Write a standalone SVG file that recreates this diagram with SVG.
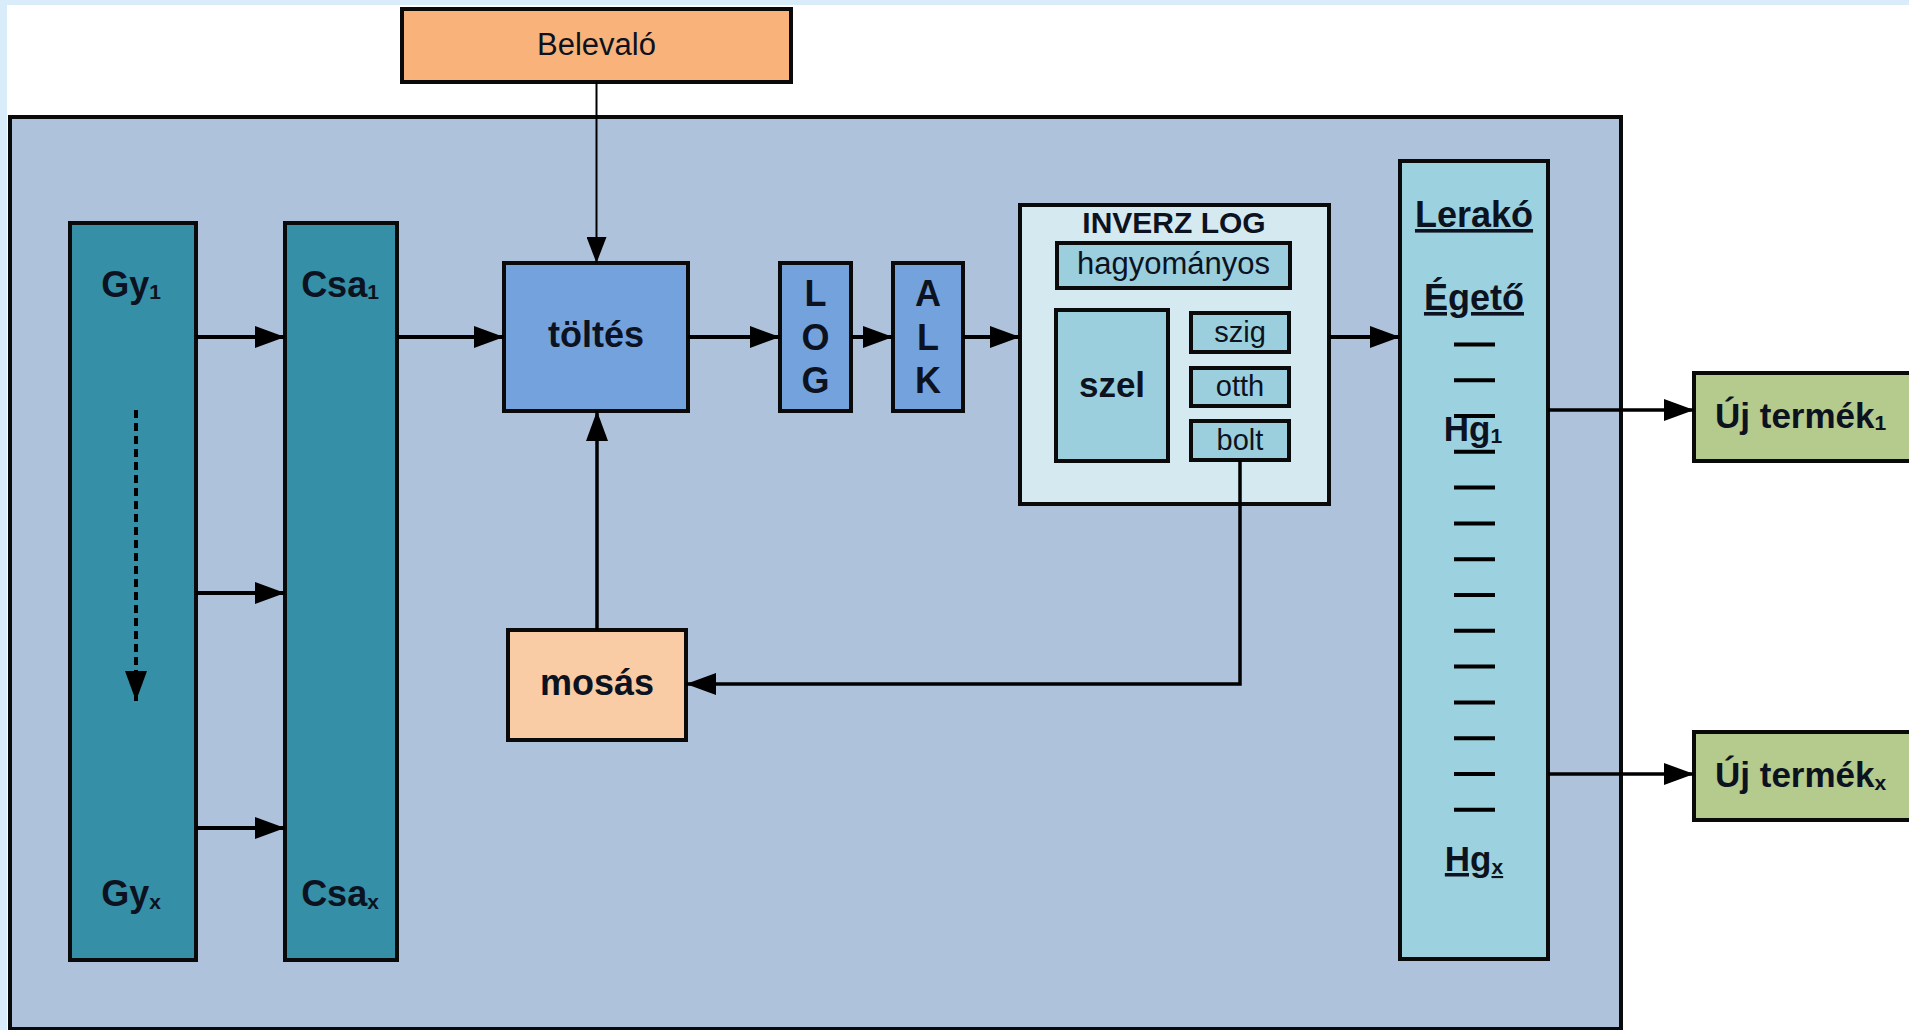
<svg xmlns="http://www.w3.org/2000/svg" width="1909" height="1030" viewBox="0 0 1909 1030">
  <defs>
    <marker id="arrow" markerUnits="userSpaceOnUse" viewBox="0 0 30 22" markerWidth="30" markerHeight="22" refX="30" refY="11" orient="auto">
      <path d="M0,0 L30,11 L0,22 z" fill="#000"/>
    </marker>
    <marker id="arrow-thin" markerUnits="userSpaceOnUse" viewBox="0 0 26 20" markerWidth="26" markerHeight="20" refX="26" refY="10" orient="auto">
      <path d="M0,0 L26,10 L0,20 z" fill="#000"/>
    </marker>
  </defs>
  <style>
    .box{stroke:#0a0a0a;stroke-width:4}
    .lbl{font-family:"Liberation Sans",Arial,sans-serif;fill:#0c1220;text-anchor:middle}
    .b{font-weight:bold}
    .conn{stroke:#000;stroke-width:4;fill:none;marker-end:url(#arrow)}
    .thin{stroke-width:2;marker-end:url(#arrow-thin)}
    .mid{stroke-width:3.5}
    .tick{stroke:#000;stroke-width:4}
    .teal{fill:#348fa7}
    .blue{fill:#74a2dc}
    .cyan{fill:#9bcfdd}
    .green{fill:#b5ca8d}
    .u{text-decoration:underline}
  </style>

  <!-- page background and light frame -->
  <rect x="0" y="0" width="1909" height="1030" fill="#ffffff"/>
  <rect x="0" y="0" width="1909" height="5" fill="#d9ecf9"/>
  <rect x="0" y="0" width="7" height="1030" fill="#d9ecf9"/>

  <!-- system panel -->
  <rect id="panel" x="10" y="117" width="1611" height="912" fill="#afc2db" stroke="#0a0a0a" stroke-width="4"/>

  <g id="belevalo">
    <rect class="box" x="402" y="9" width="389" height="73" fill="#f8b27a"/>
    <text class="lbl" x="596.5" y="55" font-size="31">Belevaló</text>
  </g>

  <g id="gy">
    <rect class="box teal" x="70" y="223" width="126" height="737"/>
    <text class="lbl b" x="131" y="297" font-size="36">Gy<tspan font-size="21" dy="2">1</tspan></text>
    <text class="lbl b" x="131" y="906" font-size="36">Gy<tspan font-size="21" dy="3">x</tspan></text>
    <line x1="136" y1="410" x2="136" y2="701" stroke="#000" stroke-width="4" stroke-dasharray="8 5" marker-end="url(#arrow)"/>
  </g>

  <g id="csa">
    <rect class="box teal" x="285" y="223" width="112" height="737"/>
    <text class="lbl b" x="340" y="297" font-size="36">Csa<tspan font-size="21" dy="2">1</tspan></text>
    <text class="lbl b" x="340" y="906" font-size="36">Csa<tspan font-size="21" dy="3">x</tspan></text>
  </g>

  <g id="toltes">
    <rect class="box blue" x="504" y="263" width="184" height="148"/>
    <text class="lbl b" x="596" y="347" font-size="36">töltés</text>
  </g>

  <g id="log">
    <rect class="box blue" x="780" y="263" width="71" height="148"/>
    <text class="lbl b" x="815.5" y="306" font-size="36">L</text>
    <text class="lbl b" x="815.5" y="349.5" font-size="36">O</text>
    <text class="lbl b" x="815.5" y="393" font-size="36">G</text>
  </g>

  <g id="alk">
    <rect class="box blue" x="893" y="263" width="70" height="148"/>
    <text class="lbl b" x="928" y="306" font-size="36">A</text>
    <text class="lbl b" x="928" y="349.5" font-size="36">L</text>
    <text class="lbl b" x="928" y="393" font-size="36">K</text>
  </g>

  <g id="inverz-log">
    <rect class="box" x="1020" y="205" width="309" height="299" fill="#d4eaf0"/>
    <text class="lbl b" x="1174" y="233" font-size="30">INVERZ LOG</text>
    <g id="hagyomanyos">
      <rect class="box cyan" x="1057" y="243" width="233" height="45"/>
      <text class="lbl" x="1173.5" y="274" font-size="31">hagyományos</text>
    </g>
    <g id="szel">
      <rect class="box cyan" x="1056" y="310" width="112" height="151"/>
      <text class="lbl b" x="1112" y="397" font-size="35">szel</text>
    </g>
    <g id="szig">
      <rect class="box cyan" x="1191" y="313" width="98" height="39"/>
      <text class="lbl" x="1240" y="342" font-size="29">szig</text>
    </g>
    <g id="otth">
      <rect class="box cyan" x="1191" y="368" width="98" height="38"/>
      <text class="lbl" x="1240" y="396" font-size="29">otth</text>
    </g>
    <g id="bolt">
      <rect class="box cyan" x="1191" y="421" width="98" height="39"/>
      <text class="lbl" x="1240" y="450" font-size="29">bolt</text>
    </g>
  </g>

  <g id="lerako">
    <rect class="box" x="1400" y="161" width="148" height="798" fill="#9cd1df"/>
    <text class="lbl b u" x="1474" y="227" font-size="36">Lerakó</text>
    <text class="lbl b u" x="1474" y="310" font-size="36">Égető</text>
    <text class="lbl b" x="1473" y="441" font-size="35">Hg<tspan font-size="21" dy="2">1</tspan></text>
    <text class="lbl b u" x="1474" y="871" font-size="35">Hg<tspan font-size="21" dy="3">x</tspan></text>
    <g class="tick">
      <line x1="1454" y1="344.4" x2="1495" y2="344.4"/>
      <line x1="1454" y1="380.2" x2="1495" y2="380.2"/>
      <line x1="1454" y1="416" x2="1495" y2="416"/>
      <line x1="1454" y1="451.8" x2="1495" y2="451.8"/>
      <line x1="1454" y1="487.6" x2="1495" y2="487.6"/>
      <line x1="1454" y1="523.4" x2="1495" y2="523.4"/>
      <line x1="1454" y1="559.2" x2="1495" y2="559.2"/>
      <line x1="1454" y1="595" x2="1495" y2="595"/>
      <line x1="1454" y1="630.8" x2="1495" y2="630.8"/>
      <line x1="1454" y1="666.6" x2="1495" y2="666.6"/>
      <line x1="1454" y1="702.4" x2="1495" y2="702.4"/>
      <line x1="1454" y1="738.2" x2="1495" y2="738.2"/>
      <line x1="1454" y1="774" x2="1495" y2="774"/>
      <line x1="1454" y1="809.8" x2="1495" y2="809.8"/>
    </g>
  </g>

  <g id="mosas">
    <rect class="box" x="508" y="630" width="178" height="110" fill="#facca6"/>
    <text class="lbl b" x="597" y="695" font-size="36">mosás</text>
  </g>

  <g id="uj-termek-1">
    <rect class="box green" x="1694" y="373" width="220" height="88"/>
    <text class="lbl b" x="1715" y="428" font-size="35" style="text-anchor:start">Új termék<tspan font-size="21" dy="2">1</tspan></text>
  </g>

  <g id="uj-termek-x">
    <rect class="box green" x="1694" y="732" width="220" height="88"/>
    <text class="lbl b" x="1715" y="787" font-size="35" style="text-anchor:start">Új termék<tspan font-size="21" dy="3">x</tspan></text>
  </g>

  <!-- connectors (drawn last so the feedback line shows over the INVERZ LOG box) -->
  <g id="connectors">
    <line class="conn thin" x1="596.5" y1="82" x2="596.5" y2="263"/>
    <line class="conn" x1="196" y1="337" x2="285" y2="337"/>
    <line class="conn" x1="196" y1="593" x2="285" y2="593"/>
    <line class="conn" x1="196" y1="828" x2="285" y2="828"/>
    <line class="conn" x1="397" y1="337" x2="504" y2="337"/>
    <line class="conn" x1="688" y1="337" x2="780" y2="337"/>
    <line class="conn" x1="851" y1="337" x2="893" y2="337"/>
    <line class="conn" x1="963" y1="337" x2="1020" y2="337"/>
    <line class="conn" x1="1329" y1="337" x2="1400" y2="337"/>
    <line class="conn mid" x1="597" y1="630" x2="597" y2="411"/>
    <path class="conn mid" d="M1240,460 V684 H686"/>
    <line class="conn mid" x1="1548" y1="410" x2="1694" y2="410"/>
    <line class="conn mid" x1="1548" y1="774" x2="1694" y2="774"/>
  </g>
</svg>
